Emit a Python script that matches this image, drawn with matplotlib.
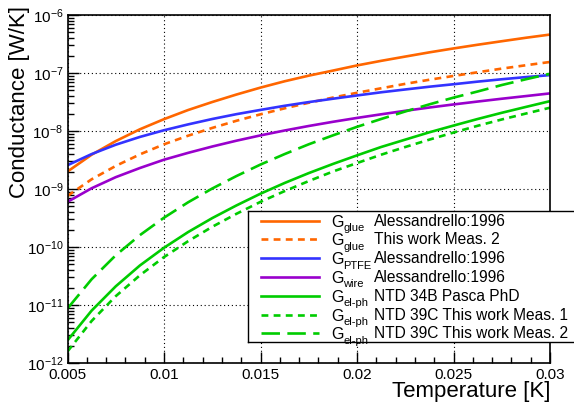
import numpy as np
import matplotlib
matplotlib.use("Agg")
import matplotlib.pyplot as plt
from matplotlib.ticker import LogLocator, MultipleLocator, FixedLocator, NullFormatter
from matplotlib.lines import Line2D

plt.rcParams['font.family'] = ['Liberation Sans', 'DejaVu Sans']

# temperature grid [K]
temp = [0.005, 0.00625, 0.0075, 0.00875, 0.01, 0.01125, 0.0125, 0.01375, 0.015, 0.01625,
        0.0175, 0.01875, 0.02, 0.02125, 0.0225, 0.02375, 0.025, 0.02625, 0.0275, 0.02875, 0.03]

# conductances [W/K]
g_glue_aless = [2.0e-9, 3.9e-9, 6.7e-9, 1.07e-8, 1.6e-8, 2.3e-8, 3.16e-8, 4.25e-8, 5.6e-8, 7.2e-8,
                9.0e-8, 1.1e-7, 1.35e-7, 1.62e-7, 1.92e-7, 2.27e-7, 2.65e-7, 3.07e-7, 3.53e-7, 4.05e-7, 4.6e-7]
g_glue_meas2 = [7.6e-10, 1.47e-9, 2.5e-9, 3.95e-9, 5.9e-9, 8.3e-9, 1.13e-8, 1.5e-8, 1.94e-8, 2.46e-8,
                3.07e-8, 3.77e-8, 4.56e-8, 5.45e-8, 6.5e-8, 7.65e-8, 8.9e-8, 1.03e-7, 1.19e-7, 1.36e-7, 1.55e-7]
g_ptfe_aless = [2.57e-9, 4.0e-9, 5.8e-9, 7.9e-9, 1.03e-8, 1.3e-8, 1.61e-8, 1.95e-8, 2.31e-8, 2.72e-8,
                3.15e-8, 3.6e-8, 4.1e-8, 4.65e-8, 5.2e-8, 5.8e-8, 6.4e-8, 7.1e-8, 7.8e-8, 8.5e-8, 9.2e-8]
g_wire_aless = [6.0e-10, 1.03e-9, 1.6e-9, 2.3e-9, 3.2e-9, 4.2e-9, 5.4e-9, 6.8e-9, 8.4e-9, 1.02e-8,
                1.22e-8, 1.44e-8, 1.68e-8, 1.94e-8, 2.23e-8, 2.54e-8, 2.87e-8, 3.22e-8, 3.6e-8, 4.0e-8, 4.45e-8]
g_elph_34b = [2.45e-12, 8.0e-12, 2.1e-11, 4.8e-11, 9.7e-11, 1.81e-10, 3.15e-10, 5.2e-10, 8.3e-10, 1.27e-9,
              1.88e-9, 2.7e-9, 3.8e-9, 5.3e-9, 7.1e-9, 9.5e-9, 1.24e-8, 1.61e-8, 2.06e-8, 2.6e-8, 3.27e-8]
g_elph_39c_m1 = [1.58e-12, 5.3e-12, 1.42e-11, 3.25e-11, 6.7e-11, 1.26e-10, 2.23e-10, 3.73e-10, 6.0e-10, 9.2e-10,
                 1.37e-9, 2.0e-9, 2.8e-9, 3.9e-9, 5.3e-9, 7.1e-9, 9.4e-9, 1.23e-8, 1.58e-8, 2.0e-8, 2.52e-8]
g_elph_39c_m2 = [8.7e-12, 2.78e-11, 7.2e-11, 1.6e-10, 3.2e-10, 5.9e-10, 1.02e-9, 1.67e-9, 2.64e-9, 4.0e-9,
                 5.9e-9, 8.4e-9, 1.18e-8, 1.61e-8, 2.17e-8, 2.88e-8, 3.76e-8, 4.8e-8, 6.2e-8, 7.8e-8, 9.7e-8]

orange = '#ff6600'
blue = '#3333ff'
purple = '#9900cc'
green = '#00cc00'
lw = 1.9

fig = plt.figure(figsize=(5.74, 4.05), dpi=100)
ax = fig.add_axes([67.5 / 574, 42 / 405, (550 - 67.5) / 574, (363 - 15) / 405])

series = [
    (g_glue_aless, orange, '-', 'glue', 'Alessandrello:1996'),
    (g_glue_meas2, orange, (0, (2.6, 2.0)), 'glue', 'This work Meas. 2'),
    (g_ptfe_aless, blue, '-', 'PTFE', 'Alessandrello:1996'),
    (g_wire_aless, purple, '-', 'wire', 'Alessandrello:1996'),
    (g_elph_34b, green, '-', 'el-ph', 'NTD 34B Pasca PhD'),
    (g_elph_39c_m1, green, (0, (2.6, 2.0)), 'el-ph', 'NTD 39C This work Meas. 1'),
    (g_elph_39c_m2, green, (0, (7.0, 2.8)), 'el-ph', 'NTD 39C This work Meas. 2'),
]

for vals, col, ls, sub, desc in series:
    ax.plot(temp, vals, color=col, ls=ls, lw=lw, solid_capstyle='butt')

ax.set_yscale('log')
ax.set_xlim(0.005, 0.03)
ax.set_ylim(1e-12, 1e-6)

ax.xaxis.set_major_locator(FixedLocator([0.005, 0.01, 0.015, 0.02, 0.025, 0.03]))
ax.xaxis.set_minor_locator(MultipleLocator(0.001))
ax.set_xticklabels(['0.005', '0.01', '0.015', '0.02', '0.025', '0.03'])
ax.yaxis.set_major_locator(LogLocator(base=10, numticks=20))
ax.yaxis.set_minor_locator(LogLocator(base=10, subs=np.arange(2, 10), numticks=20))
ax.yaxis.set_minor_formatter(NullFormatter())

ax.tick_params(which='both', direction='in', top=False, right=False, labelsize=11, width=1)
ax.tick_params(which='major', length=8)
ax.tick_params(which='minor', length=4.5)
ax.tick_params(axis='x', pad=3.5)
ax.tick_params(axis='y', pad=3)
ax.grid(True, which='major', ls=(0, (1, 2.5)), color='black', lw=0.8)
for s in ax.spines.values():
    s.set_linewidth(1.2)

fig.text(551 / 574, 1 - 391 / 405, 'Temperature [K]', ha='right', va='center', fontsize=16)
fig.text(20 / 574, 1 - 6 / 405, 'Conductance [W/K]', ha='center', va='top', rotation=90, fontsize=16)

# legend box, ROOT style
lx0, ly0, lx1, ly1 = 248, 211, 580, 342
lax = fig.add_axes([lx0 / 574, 1 - ly1 / 405, (lx1 - lx0) / 574, (ly1 - ly0) / 405])
lax.set_xlim(lx0, lx1)
lax.set_ylim(ly1, ly0)
lax.set_facecolor('white')
lax.set_xticks([])
lax.set_yticks([])
for s in lax.spines.values():
    s.set_linewidth(1.0)
    s.set_color('black')

row_y = [220.7, 239.3, 258.0, 276.8, 295.7, 314.6, 333.3]
for (vals, col, ls, sub, desc), y in zip(series, row_y):
    lax.add_line(Line2D([261, 319], [y, y], color=col, ls=ls, lw=lw))
    lax.text(331, y + 6, 'G', fontsize=11.5, ha='left', va='baseline')
    lax.text(343.5, y + 10.5, sub, fontsize=8, ha='left', va='baseline')
    lax.text(374, y + 5, desc, fontsize=11.2, ha='left', va='baseline')

fig.savefig('out.png', dpi=100)
